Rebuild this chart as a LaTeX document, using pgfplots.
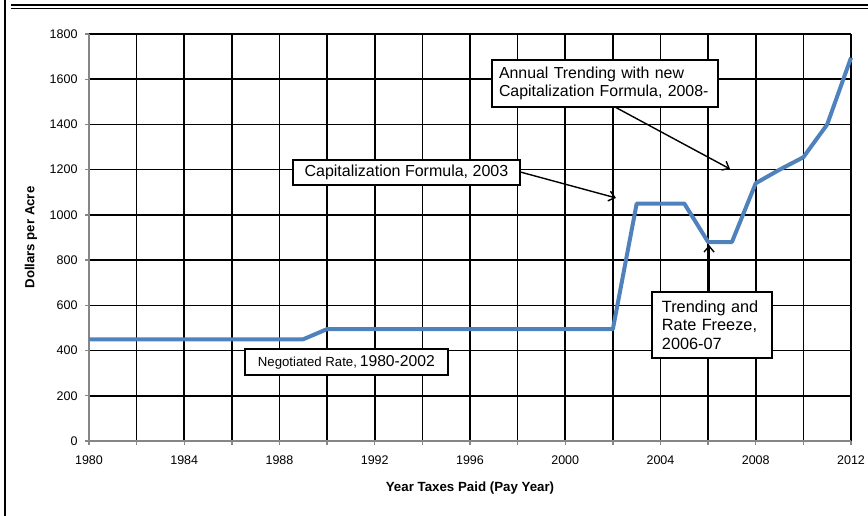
\documentclass[border=0pt]{standalone}
\usepackage{pgfplots}
\pgfplotsset{compat=1.18}
\usetikzlibrary{arrows.meta}
\usepackage{fontspec}
\setmainfont{Liberation Sans}
\definecolor{xlblue}{RGB}{79,129,189}
\definecolor{axgray}{RGB}{134,134,134}
\begin{document}
\begin{tikzpicture}
\useasboundingbox (0pt,0pt) rectangle (868pt,-516pt);
\begin{axis}[
  scale only axis,
  width=762pt, height=407pt,
  at={(89pt,-441pt)}, anchor=south west,
  xmin=1980, xmax=2012, ymin=0, ymax=1800,
  xtick={1980,1984,...,2012},
  minor xtick={1982,1986,...,2010},
  ytick={0,200,...,1800},
  grid=both,
  major grid style={black, line width=1.6pt},
  minor grid style={black, line width=1.6pt},
  axis lines=left,
  axis line style={-, axgray, line width=1.8pt},
  tick style={axgray, line width=1.3pt},
  tick align=outside,
  major tick length=4pt, minor tick length=4pt,
  /pgf/number format/1000 sep={},
  /pgf/number format/assume math mode=true,
  ticklabel style={font=\fontsize{12.5}{14}\selectfont},
  xticklabel style={yshift=-7pt},
  yticklabel style={xshift=-4pt},
  xlabel={Year Taxes Paid (Pay Year)},
  ylabel={Dollars per Acre},
  xlabel style={at={(axis description cs:0.5,-0.1155)}, anchor=center, font=\fontsize{13.3}{15}\selectfont\bfseries},
  ylabel style={at={(axis description cs:-0.0761,0.5)}, anchor=center, rotate=0, font=\fontsize{13.2}{15}\selectfont\bfseries},
  clip=false,
]
\addplot[xlblue, line width=4pt, line join=round] coordinates {
(1980,450) (1981,450) (1982,450) (1983,450) (1984,450) (1985,450) (1986,450)
(1987,450) (1988,450) (1989,450) (1990,495) (1991,495) (1992,495) (1993,495)
(1994,495) (1995,495) (1996,495) (1997,495) (1998,495) (1999,495) (2000,495)
(2001,495) (2002,495) (2003,1050) (2004,1050) (2005,1050) (2006,880) (2007,880)
(2008,1140) (2009,1200) (2010,1255) (2011,1400) (2012,1695)
};
\tikzset{box/.style={draw=black, line width=1.4pt, fill=white, inner xsep=10pt, inner ysep=3pt}}
\node[box, minimum width=203pt, minimum height=26pt, inner xsep=3pt] at (axis cs:1990.81,349) {{\fontsize{13.2}{15}\selectfont Negotiated Rate,} {\fontsize{15.7}{17}\selectfont 1980-2002}};
\node[box, minimum width=227pt, minimum height=25pt, inner xsep=3pt, font=\fontsize{16}{18}\selectfont] at (axis cs:1993.33,1187) {Capitalization Formula, 2003};
\draw[-{Straight Barb[length=6pt,width=10pt]}, line width=1.4pt] (axis cs:1998.10,1190) -- (axis cs:2002.13,1075);
\node[box, text width=212pt, inner xsep=7pt, minimum height=47pt, align=left, font=\fontsize{15.9}{18.7}\selectfont] at (axis cs:2001.67,1581) {Annual Trending with new\\Capitalization Formula, 2008-};
\draw[-{Straight Barb[length=6pt,width=10pt]}, line width=1.4pt] (axis cs:2002.09,1477) -- (axis cs:2006.92,1203);
\node[box, text width=100pt, minimum height=66pt, align=left, font=\fontsize{16.3}{18.7}\selectfont] at (axis cs:2006.16,513) {Trending and\\Rate Freeze,\\2006-07};
\draw[-{Straight Barb[length=6pt,width=10pt]}, line width=1.4pt] (axis cs:2006.04,659) -- (axis cs:2006.04,867);
\end{axis}
\draw[black, line width=2pt] (4.5pt,0pt) -- (4.5pt,-516pt);
\draw[black, line width=2.4pt] (11pt,-5.2pt) -- (868pt,-5.2pt);
\draw[black, line width=1.3pt] (11pt,-8.3pt) -- (868pt,-8.3pt);
\end{tikzpicture}
\end{document}
